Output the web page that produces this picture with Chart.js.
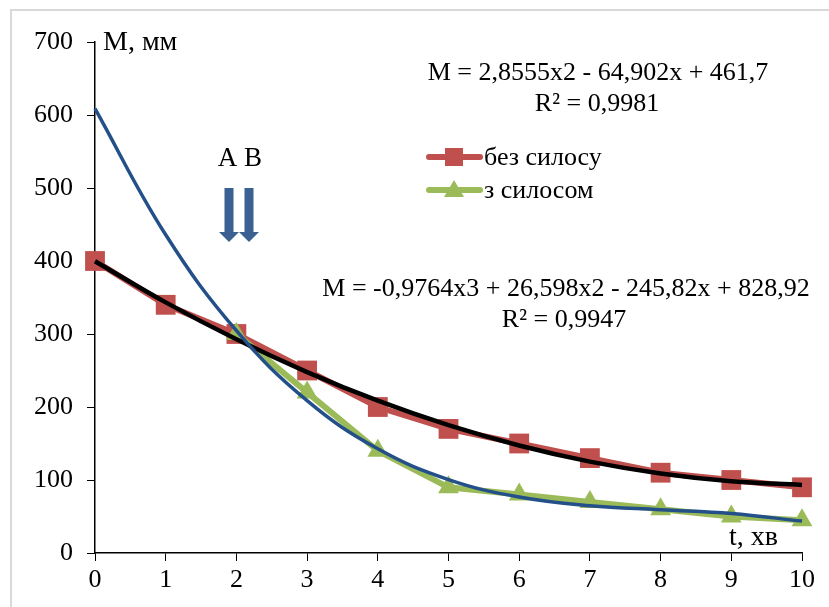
<!DOCTYPE html>
<html>
<head>
<meta charset="utf-8">
<script src="https://cdn.jsdelivr.net/npm/chart.js@4.4.1/dist/chart.umd.min.js"></script>
<style>
  html, body { margin: 0; padding: 0; background: #fff; }
  #wrap { width: 829px; height: 607px; }
</style>
</head>
<body>
<div id="wrap"><canvas id="chart" width="829" height="607"></canvas></div>
<script>
// time, min
const tValues = [0, 1, 2, 3, 4, 5, 6, 7, 8, 9, 10];
// without silage
const bezSilosu = [400, 340, 300, 250, 200, 170, 150, 130, 110, 100, 90];
// with silage (starts at t = 2)
const zSilosom = [null, null, 300, 220, 140, 90, 80, 70, 60, 50, 45];
// trendline values (poly 2 for bezSilosu, poly 3 for zSilosom)
const trendPoly2 = [399.7, 343.3, 292.7, 247.8, 208.6, 175.1, 147.3, 125.2, 108.9, 98.2, 93.3];
const trendPoly3 = [608.7, 435.9, 304.5, 208.7, 142.7, 100.6, 76.6, 64.7, 59.2, 54.1, 43.7];
const yTicks = [0, 100, 200, 300, 400, 500, 600, 700];

const FONT = "'Liberation Serif', 'Times New Roman', serif";
const RED = "#c0504d";
const GREEN = "#9bbb59";
const BLUE = "#24508a";

const toPoints = (vals) => tValues.map((t, i) => ({ x: t, y: vals[i] }));

const overlay = {
    id: "overlay",
    beforeDraw(chart) {
        const ctx = chart.ctx;
        ctx.save();
        ctx.strokeStyle = "#d9d9d9";
        ctx.lineWidth = 2;
        ctx.strokeRect(11, 10, 900, 700);
        ctx.restore();
    },
    afterDraw(chart) {
        const ctx = chart.ctx;
        ctx.save();
        ctx.fillStyle = "#000";
        ctx.textBaseline = "middle";

        // axis titles
        ctx.font = "28px " + FONT;
        ctx.textAlign = "left";
        ctx.fillText("M, мм", 103, 43);
        ctx.fillText("t, хв", 729, 538);

        // equations
        ctx.font = "26px " + FONT;
        ctx.textAlign = "center";
        ctx.fillText("M = 2,8555x2 - 64,902x + 461,7", 598, 73);
        ctx.fillText("R² = 0,9981", 597, 104);
        ctx.fillText("M = -0,9764x3 + 26,598x2 - 245,82x + 828,92", 566, 289);
        ctx.fillText("R² = 0,9947", 564, 320);

        // A B label and arrows
        ctx.font = "27px " + FONT;
        ctx.fillText("A B", 240, 159);
        ctx.fillStyle = "#3a6191";
        [229, 249].forEach((cx) => {
            ctx.fillRect(cx - 4.5, 188, 9, 45);
            ctx.beginPath();
            ctx.moveTo(cx - 10, 232);
            ctx.lineTo(cx + 10, 232);
            ctx.lineTo(cx, 242);
            ctx.closePath();
            ctx.fill();
        });

        // legend
        ctx.lineCap = "round";
        ctx.lineWidth = 6;
        ctx.strokeStyle = RED;
        ctx.beginPath();
        ctx.moveTo(429, 157);
        ctx.lineTo(480, 157);
        ctx.stroke();
        ctx.fillStyle = RED;
        ctx.fillRect(445, 148, 18, 18);

        ctx.strokeStyle = GREEN;
        ctx.beginPath();
        ctx.moveTo(429, 190);
        ctx.lineTo(480, 190);
        ctx.stroke();
        ctx.fillStyle = GREEN;
        ctx.beginPath();
        ctx.moveTo(454, 180);
        ctx.lineTo(464, 197);
        ctx.lineTo(444, 197);
        ctx.closePath();
        ctx.fill();

        ctx.fillStyle = "#000";
        ctx.font = "26px " + FONT;
        ctx.textAlign = "left";
        ctx.fillText("без силосу", 484, 158);
        ctx.fillText("з силосом", 484, 191);
        ctx.restore();
    },
};

new Chart(document.getElementById("chart"), {
    type: "line",
    data: {
        datasets: [
            {
                label: "без силосу",
                data: toPoints(bezSilosu),
                borderColor: RED,
                backgroundColor: RED,
                borderWidth: 6,
                pointStyle: "rect",
                pointRadius: 14,
                pointBorderWidth: 0,
                tension: 0,
                clip: false,
                order: 4,
            },
            {
                label: "з силосом",
                data: toPoints(zSilosom),
                borderColor: GREEN,
                backgroundColor: GREEN,
                borderWidth: 6,
                pointStyle: "triangle",
                pointRadius: 12,
                pointBorderWidth: 0,
                tension: 0,
                spanGaps: false,
                clip: false,
                order: 3,
            },
            {
                label: "poly2",
                data: toPoints(trendPoly2),
                borderColor: "#000",
                borderWidth: 4.5,
                pointRadius: 0,
                tension: 0.4,
                clip: false,
                order: 2,
            },
            {
                label: "poly3",
                data: toPoints(trendPoly3),
                borderColor: BLUE,
                borderWidth: 3.5,
                pointRadius: 0,
                tension: 0.4,
                clip: false,
                order: 1,
            },
        ],
    },
    options: {
        responsive: false,
        animation: false,
        layout: { padding: { top: 42, right: 27, left: 0, bottom: 0 } },
        plugins: {
            legend: { display: false },
            tooltip: { enabled: false },
        },
        scales: {
            x: {
                type: "linear",
                min: 0,
                max: 10,
                ticks: {
                    stepSize: 1,
                    color: "#000",
                    font: { family: FONT, size: 26 },
                    padding: 4,
                },
                grid: { drawOnChartArea: false, color: "#000", tickColor: "#000", tickLength: 8 },
                border: { color: "#000", width: 1.5 },
                afterFit: (scale) => { scale.height = 54; },
            },
            y: {
                min: 0,
                max: 700,
                afterBuildTicks: (scale) => { scale.ticks = yTicks.map((v) => ({ value: v })); },
                ticks: {
                    color: "#000",
                    font: { family: FONT, size: 26 },
                    padding: 14,
                },
                grid: { drawOnChartArea: false, color: "#000", tickColor: "#000", tickLength: 8 },
                border: { color: "#000", width: 1.5 },
                afterFit: (scale) => { scale.width = 95; },
            },
        },
    },
    plugins: [overlay],
});
</script>
</body>
</html>
